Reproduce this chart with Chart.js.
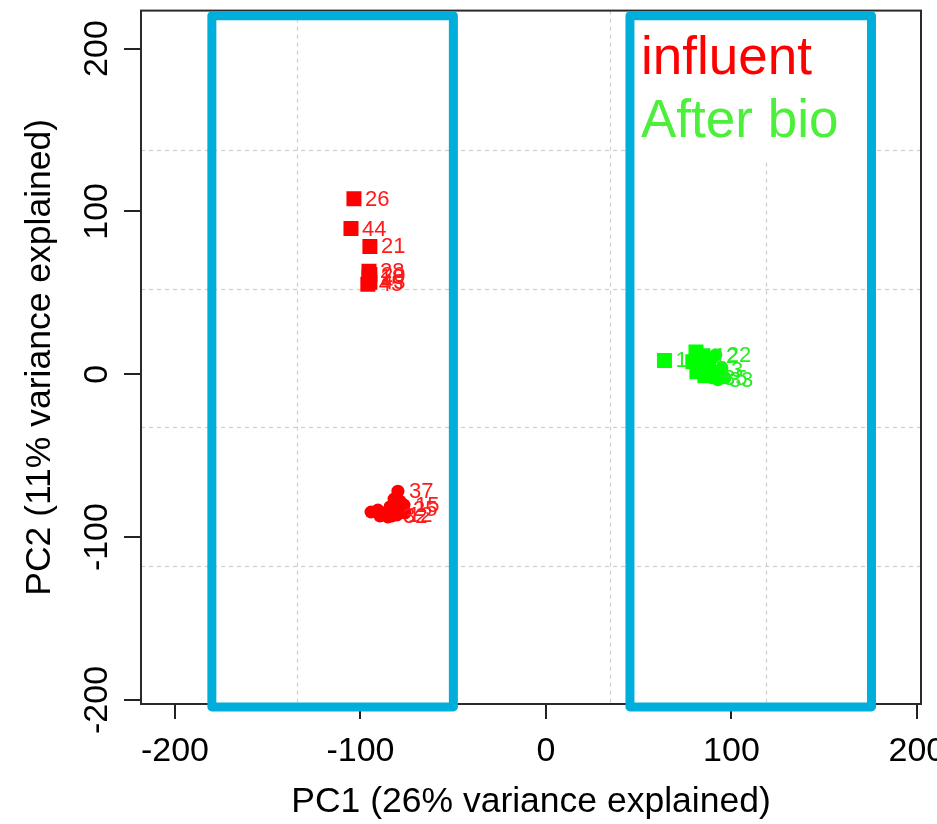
<!DOCTYPE html>
<html>
<head>
<meta charset="utf-8">
<script src="https://cdn.jsdelivr.net/npm/chart.js@4"></script>
<style>
  body { margin: 0; background: #fff; }
  #wrap { width: 937px; height: 824px; }
</style>
</head>
<body>
<div id="wrap"><canvas id="pca"></canvas></div>
<script>
// axis ticks
var xTicks = [-200, -100, 0, 100, 200];
var yTicks = [-200, -100, 0, 100, 200];
// dashed grid (R grid() spacing)
var gridX = [-134.2, -49.9, 34.5, 118.8];
var gridY = [137.7, 52.2, -32.7, -117.6];

// influent samples, squares
var infSqX = [-103.5, -105.1, -94.9, -95.4, -94.9, -95.4, -94.9, -96.0];
var infSqY = [107.8, 89.5, 78.5, 63.2, 61.2, 59.5, 56.5, 55.3];
var infSqLab = ['26', '44', '21', '28', '20', '18', '43', '45'];

// influent samples, circles
var infCiX = [-94.3, -90.6, -86.8, -84.1, -81.9, -79.8, -78.7, -77.6, -76.5, -83.0, -80.3, -85.2, -76.0, -89.5];
var infCiY = [-84.6, -83.4, -85.2, -81.5, -76.6, -71.8, -77.9, -82.7, -80.3, -87.0, -86.4, -87.6, -85.2, -87.0];
var infCiLab = ['', '', '', '', '', '37', '', '25', '15', '32', '12', '', '', ''];

// after bio samples, squares
var bioSqX = [63.9, 80.9, 84.6, 79.2, 83.0, 87.3, 81.4, 85.7];
var bioSqY = [8.5, 13.7, 11.3, 7.6, 5.2, 2.7, 1.5, -0.9];
var bioSqLab = ['1', '', '12', '', '', '13', '', ''];

// after bio samples, circles
var bioCiX = [91.6, 89.5, 92.7, 96.5, 91.6, 94.9, 88.4];
var bioCiY = [11.9, -2.1, -3.4, -2.1, 1.5, 4.0, 7.0];
var bioCiLab = ['22', '35', '33', '', '', '', ''];

// highlight boxes (data units)
var boxes = [
  { x0: -180.1, x1: -49.9, y0: -204.3, y1: 220.2 },
  { x0: 45.3, x1: 175.5, y0: -204.3, y1: 220.2 }
];

var legendNames = ['influent', 'After bio'];
var legendColors = ['#ff0000', '#4cef3a'];

var FONT = "'Liberation Sans', Arial, sans-serif";

function pts(xs, ys) {
  return xs.map(function (x, i) { return { x: x, y: ys[i] }; });
}

var decor = {
  id: 'decor',
  beforeDatasetsDraw: function (chart) {
    var ctx = chart.ctx, a = chart.chartArea;
    var xs = chart.scales.x, ys = chart.scales.y;
    ctx.save();
    ctx.strokeStyle = '#cfcfcf';
    ctx.lineWidth = 1.2;
    ctx.setLineDash([4, 4]);
    gridX.forEach(function (v) {
      var p = Math.round(xs.getPixelForValue(v)) + 0.5;
      ctx.beginPath(); ctx.moveTo(p, a.top); ctx.lineTo(p, a.bottom); ctx.stroke();
    });
    gridY.forEach(function (v) {
      var p = Math.round(ys.getPixelForValue(v)) + 0.5;
      ctx.beginPath(); ctx.moveTo(a.left, p); ctx.lineTo(a.right, p); ctx.stroke();
    });
    ctx.setLineDash([]);
    // white area behind legend text
    ctx.fillStyle = '#fff';
    ctx.fillRect(636, 19, 231, 142);
    ctx.strokeStyle = '#2a2a2a';
    ctx.lineWidth = 2;
    ctx.strokeRect(a.left, a.top, a.right - a.left, a.bottom - a.top);
    ctx.restore();
  },
  afterDatasetsDraw: function (chart) {
    var ctx = chart.ctx;
    var xs = chart.scales.x, ys = chart.scales.y;
    ctx.save();
    // point labels
    ctx.font = '22px ' + FONT;
    ctx.textAlign = 'left';
    ctx.textBaseline = 'middle';
    chart.data.datasets.forEach(function (ds, i) {
      var meta = chart.getDatasetMeta(i);
      ctx.fillStyle = ds.labelColor;
      meta.data.forEach(function (el, j) {
        var t = ds.pointLabels[j];
        if (t) ctx.fillText(t, el.x + 11, el.y + 1);
      });
    });
    // legend text
    ctx.font = '53px ' + FONT;
    ctx.textBaseline = 'alphabetic';
    ctx.fillStyle = legendColors[0];
    ctx.fillText(legendNames[0], 641, 74);
    ctx.fillStyle = legendColors[1];
    ctx.fillText(legendNames[1], 641, 137);
    // blue boxes
    ctx.strokeStyle = '#00aedb';
    ctx.lineWidth = 9;
    ctx.lineJoin = 'round';
    boxes.forEach(function (b) {
      var l = xs.getPixelForValue(b.x0), r = xs.getPixelForValue(b.x1);
      var t = ys.getPixelForValue(b.y1), btm = ys.getPixelForValue(b.y0);
      ctx.strokeRect(l, t, r - l, btm - t);
    });
    ctx.restore();
  }
};

new Chart(document.getElementById('pca'), {
  type: 'scatter',
  data: {
    datasets: [
      { data: pts(infSqX, infSqY), pointLabels: infSqLab, labelColor: '#ff1a1a',
        pointStyle: 'rect', pointRadius: 10.6, backgroundColor: '#ff0000', borderWidth: 0 },
      { data: pts(infCiX, infCiY), pointLabels: infCiLab, labelColor: '#ff1a1a',
        pointStyle: 'circle', pointRadius: 6.5, backgroundColor: '#ff0000', borderWidth: 0 },
      { data: pts(bioSqX, bioSqY), pointLabels: bioSqLab, labelColor: '#22ee22',
        pointStyle: 'rect', pointRadius: 10.6, backgroundColor: '#00ff00', borderWidth: 0 },
      { data: pts(bioCiX, bioCiY), pointLabels: bioCiLab, labelColor: '#22ee22',
        pointStyle: 'circle', pointRadius: 6.5, backgroundColor: '#00ff00', borderWidth: 0 }
    ]
  },
  options: {
    responsive: true,
    maintainAspectRatio: false,
    animation: false,
    layout: { padding: { top: 10, right: 16, left: 0, bottom: 0 } },
    plugins: { legend: { display: false }, tooltip: { enabled: false } },
    scales: {
      x: {
        type: 'linear', min: -218.3, max: 202.2,
        afterBuildTicks: function (s) { s.ticks = xTicks.map(function (v) { return { value: v }; }); },
        afterFit: function (s) { s.height = 120; s.paddingLeft = 0; s.paddingRight = 0; },
        border: { display: false },
        grid: { drawOnChartArea: false, drawTicks: true, tickLength: 15, tickColor: '#222', lineWidth: 2 },
        ticks: { font: { size: 34, family: FONT }, color: '#000', padding: 12, maxRotation: 0, autoSkip: false },
        title: { display: true, text: 'PC1 (26% variance explained)', color: '#000',
                 font: { size: 35.5, family: FONT }, padding: { top: 0, bottom: 0 } }
      },
      y: {
        type: 'linear', min: -202.5, max: 223.3,
        afterBuildTicks: function (s) { s.ticks = yTicks.map(function (v) { return { value: v }; }); },
        afterFit: function (s) { s.width = 141; s.paddingTop = 0; s.paddingBottom = 0; },
        border: { display: false },
        grid: { drawOnChartArea: false, drawTicks: true, tickLength: 17, tickColor: '#222', lineWidth: 2 },
        ticks: { font: { size: 34, family: FONT }, color: '#000', minRotation: 90, maxRotation: 90,
                 crossAlign: 'center', padding: -8, autoSkip: false },
        title: { display: true, text: 'PC2 (11% variance explained)', color: '#000',
                 font: { size: 35.5, family: FONT }, padding: { top: 19, bottom: 0 } }
      }
    }
  },
  plugins: [decor]
});
</script>
</body>
</html>
